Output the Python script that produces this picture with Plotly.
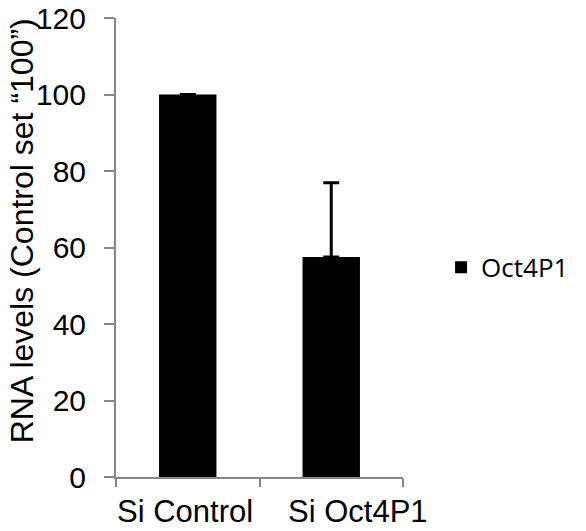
import plotly.graph_objects as go

categories = ["Si Control", "Si Oct4P1"]
values = [100, 57.5]
err_plus = [None, 19.4]
err_minus = [None, 0]
series_name = "Oct4P1"
y_ticks = [0, 20, 40, 60, 80, 100, 120]
y_title = "RNA levels (Control set “100”)"
label_xshift = [-3, 27]  # category label nudges, as laid out in the original

fig = go.Figure()
fig.add_trace(go.Bar(
    x=categories, y=values, name=series_name,
    marker=dict(color="black", line=dict(width=0)),
    width=0.4,
    error_y=dict(type="data", symmetric=False, array=err_plus,
                 arrayminus=err_minus, color="black", thickness=3, width=8),
    showlegend=True,
))

axis_col = "#868686"
L, R, T, B = 116, 176, 18, 54
pw = 586 - L - R
ph = 531 - T - B

annotations = [dict(text=y_title, xref="paper", yref="paper",
                    x=(20 - L) / pw, y=(477 - 231) / ph, textangle=-90, showarrow=False,
                    xanchor="center", yanchor="middle",
                    font=dict(size=32, color="black"))]
for i, (cat, dx) in enumerate(zip(categories, label_xshift)):
    annotations.append(dict(text=cat, xref="x", yref="paper", x=i, y=0,
                            xanchor="center", yanchor="top", xshift=dx, yshift=-15,
                            showarrow=False, font=dict(size=31, color="black")))

fig.update_layout(
    width=586, height=531,
    margin=dict(l=L, r=R, t=T, b=B),
    plot_bgcolor="white", paper_bgcolor="white",
    font=dict(family="Liberation Sans, Arial, sans-serif", size=30, color="black"),
    showlegend=True,
    legend=dict(x=(449 - L) / pw, y=0.457, xanchor="left", yanchor="middle",
                font=dict(family="Open Sans, sans-serif", size=26, color="black"),
                itemwidth=30, bgcolor="rgba(0,0,0,0)"),
    xaxis=dict(type="category", range=[-0.5, len(categories) - 0.5],
               showline=True, linecolor=axis_col, linewidth=2, automargin=False,
               ticks="outside", tickson="boundaries", ticklen=8, tickwidth=2,
               tickcolor=axis_col, showgrid=False, showticklabels=False),
    yaxis=dict(range=[0, 120], tickvals=y_ticks, showline=True, linecolor=axis_col,
               linewidth=2, ticks="outside", ticklen=10, tickwidth=2, tickcolor=axis_col,
               showgrid=False, zeroline=False, automargin=False,
               tickfont=dict(size=30), ticklabelstandoff=12),
    annotations=annotations,
)

fig.write_html("out.html", config={"displayModeBar": False},
               post_script="document.body.style.margin='0';")
